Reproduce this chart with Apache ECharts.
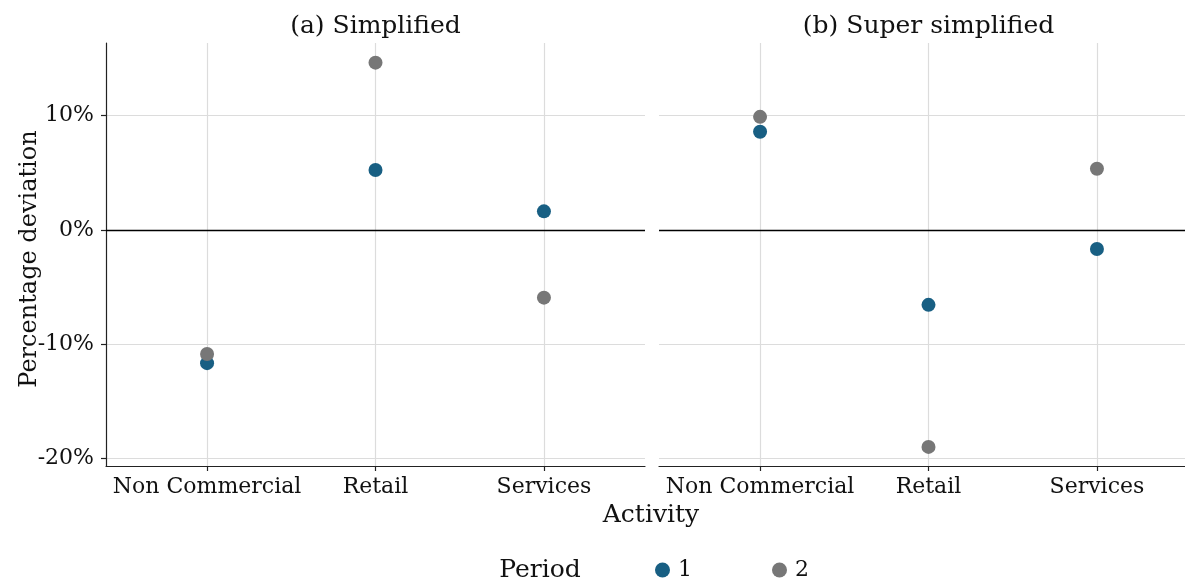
<!DOCTYPE html>
<html>
<head>
<meta charset="utf-8">
<script src="https://cdn.jsdelivr.net/npm/echarts@6/dist/echarts.min.js"></script>
<style>
  html, body { margin: 0; padding: 0; background: #fff; }
  #chart { width: 1185px; height: 583px; }
</style>
</head>
<body>
<div id="chart"></div>
<script>
// Activity categories shared by both panels
const categories = ['Non Commercial', 'Retail', 'Services'];
const periods = ['1', '2'];
const panelTitles = ['(a) Simplified', '(b) Super simplified'];

// Percentage deviation by activity, per panel and period
const simplifiedPeriod1 = [-11.65, 5.25, 1.63];
const simplifiedPeriod2 = [-10.85, 14.64, -5.92];
const superPeriod1 = [8.6, -6.55, -1.66];
const superPeriod2 = [9.9, -18.98, 5.36];

const yTicks = [-20, -10, 0, 10];

const FONT = "'DejaVu Serif', 'Liberation Serif', serif";
const COLORS = ['#185f83', '#777777'];
const TEXT = '#111';

function pairs(values) {
  return values.map((v, i) => [i + 1, v]);
}

const gridTop = 43, gridHeight = 423, gridWidth = 539;
const panelLeft = [106, 659];
const grids = panelLeft.map(l => ({
  left: l, top: gridTop, width: gridWidth, height: gridHeight,
  outerBoundsMode: 'none', containLabel: false
}));

function xAxis(idx) {
  return {
    type: 'value', gridIndex: idx, min: 0.4, max: 3.6,
    axisLine: { show: true, onZero: false, lineStyle: { color: '#222', width: 1.2 } },
    axisTick: { show: true, customValues: [1, 2, 3], length: 5, lineStyle: { color: '#222', width: 1.2 } },
    axisLabel: {
      customValues: [1, 2, 3],
      formatter: v => categories[Math.round(v) - 1] || '',
      fontFamily: FONT, fontSize: 22, color: TEXT, margin: 10
    },
    splitLine: { show: false }
  };
}

function yAxis(idx) {
  return {
    type: 'value', gridIndex: idx, min: -20.65, max: 16.36,
    axisLine: { show: idx === 0, onZero: false, lineStyle: { color: '#222', width: 1.2 } },
    axisTick: { show: idx === 0, customValues: yTicks, length: 5, lineStyle: { color: '#222', width: 1.2 } },
    axisLabel: {
      show: idx === 0, customValues: yTicks,
      formatter: v => v + '%',
      fontFamily: FONT, fontSize: 22, color: TEXT, margin: 12
    },
    splitLine: { show: true, lineStyle: { color: '#dcdcdc', width: 1.2 } }
  };
}

// Background guides: vertical category lines and the zero reference line
function guideSeries(idx) {
  return {
    type: 'scatter', xAxisIndex: idx, yAxisIndex: idx, data: [], z: 1,
    silent: true,
    markLine: {
      symbol: 'none', silent: true, animation: false,
      label: { show: false },
      data: [
        { xAxis: 1, lineStyle: { color: '#dcdcdc', width: 1.2, type: 'solid' } },
        { xAxis: 2, lineStyle: { color: '#dcdcdc', width: 1.2, type: 'solid' } },
        { xAxis: 3, lineStyle: { color: '#dcdcdc', width: 1.2, type: 'solid' } },
        { yAxis: 0, lineStyle: { color: '#000', width: 1.3, type: 'solid' } }
      ]
    }
  };
}

function pointSeries(idx, name, values, color) {
  return {
    type: 'scatter', name: name, xAxisIndex: idx, yAxisIndex: idx,
    data: pairs(values), symbol: 'circle', symbolSize: 14, z: 5,
    itemStyle: { color: color, opacity: 1 }
  };
}

function label(text, x, y, size, rotate) {
  return {
    type: 'text', x: x, y: y, rotation: rotate || 0, silent: true,
    style: {
      text: text, fontFamily: FONT, fontSize: size, fill: TEXT,
      textAlign: 'center', textVerticalAlign: 'middle'
    }
  };
}

const option = {
  animation: false,
  backgroundColor: '#fff',
  textStyle: { fontFamily: FONT },
  graphic: [
    label(panelTitles[0], panelLeft[0] + gridWidth / 2, 26, 25),
    label(panelTitles[1], panelLeft[1] + gridWidth / 2, 26, 25),
    label('Percentage deviation', 30, 259, 24, Math.PI / 2),
    label('Activity', 651, 515, 25),
    label('Period', 540, 570, 25)
  ],
  legend: {
    data: periods,
    left: 655, top: 559, padding: 0, icon: 'circle', itemWidth: 15, itemHeight: 15,
    itemGap: 80,
    textStyle: { fontFamily: FONT, fontSize: 22, color: TEXT, padding: [0, 0, 0, 3] }
  },
  grid: grids,
  xAxis: [xAxis(0), xAxis(1)],
  yAxis: [yAxis(0), yAxis(1)],
  series: [
    guideSeries(0),
    guideSeries(1),
    pointSeries(0, periods[0], simplifiedPeriod1, COLORS[0]),
    pointSeries(0, periods[1], simplifiedPeriod2, COLORS[1]),
    pointSeries(1, periods[0], superPeriod1, COLORS[0]),
    pointSeries(1, periods[1], superPeriod2, COLORS[1])
  ]
};

const chart = echarts.init(document.getElementById('chart'), null, { renderer: 'canvas' });
chart.setOption(option);
</script>
</body>
</html>
